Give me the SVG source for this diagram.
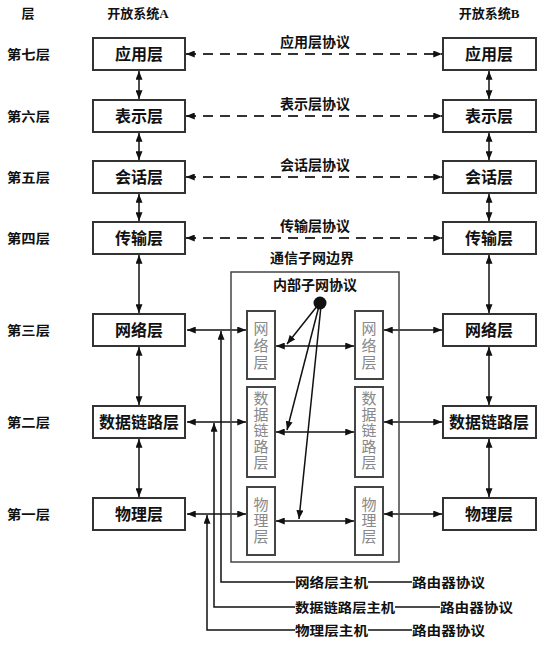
<svg xmlns="http://www.w3.org/2000/svg" width="555" height="651" viewBox="0 0 555 651">
<defs>
<marker id="ah" viewBox="0 0 10 8" refX="10" refY="4" markerWidth="9" markerHeight="7" markerUnits="userSpaceOnUse" orient="auto-start-reverse">
<path d="M0,0 L10,4 L0,8 Z" fill="#111"/>
</marker>
<style>
.t{font-family:"Liberation Serif","Noto Sans CJK SC",serif;font-weight:bold;fill:#111;}
.box{fill:#fff;stroke:#333;stroke-width:2;}
.ibox{fill:#fff;stroke:#444;stroke-width:2;}
.it{font-family:"Liberation Serif","Noto Sans CJK SC",serif;fill:#888;font-size:15px;text-anchor:middle;}
.bt{font-size:16px;text-anchor:middle;dominant-baseline:central;}
.lab{font-size:13px;}
.ln{stroke:#111;stroke-width:1.5;fill:none;}
.da{stroke:#333;stroke-width:2;fill:none;stroke-dasharray:10 7;}
.arr{marker-start:url(#ah);marker-end:url(#ah);}
.one{marker-end:url(#ah);}
</style>
</defs>

<g id="headers">
<text class="t lab" x="28" y="18" text-anchor="middle">层</text>
<text class="t lab" x="138" y="18" text-anchor="middle">开放系统A</text>
<text class="t lab" x="489" y="18" text-anchor="middle">开放系统B</text>
</g>

<g id="row-labels">
<text class="t lab" x="7" y="59" textLength="43" lengthAdjust="spacingAndGlyphs">第七层</text>
<text class="t lab" x="7" y="121" textLength="43" lengthAdjust="spacingAndGlyphs">第六层</text>
<text class="t lab" x="7" y="182" textLength="43" lengthAdjust="spacingAndGlyphs">第五层</text>
<text class="t lab" x="7" y="243" textLength="43" lengthAdjust="spacingAndGlyphs">第四层</text>
<text class="t lab" x="7" y="335" textLength="43" lengthAdjust="spacingAndGlyphs">第三层</text>
<text class="t lab" x="7" y="427" textLength="43" lengthAdjust="spacingAndGlyphs">第二层</text>
<text class="t lab" x="7" y="519" textLength="43" lengthAdjust="spacingAndGlyphs">第一层</text>
</g>

<g id="connectors">
<line class="da arr" x1="186" y1="54" x2="442" y2="54"/>
<line class="da arr" x1="186" y1="116" x2="442" y2="116"/>
<line class="da arr" x1="186" y1="177" x2="442" y2="177"/>
<line class="da arr" x1="186" y1="238" x2="442" y2="238"/>
<line class="ln arr" x1="139" y1="71" x2="139" y2="99"/>
<line class="ln arr" x1="139" y1="133" x2="139" y2="160"/>
<line class="ln arr" x1="139" y1="194" x2="139" y2="221"/>
<line class="ln arr" x1="139" y1="255" x2="139" y2="313"/>
<line class="ln arr" x1="139" y1="347" x2="139" y2="405"/>
<line class="ln arr" x1="139" y1="439" x2="139" y2="497"/>
<line class="ln arr" x1="489" y1="71" x2="489" y2="99"/>
<line class="ln arr" x1="489" y1="133" x2="489" y2="160"/>
<line class="ln arr" x1="489" y1="194" x2="489" y2="221"/>
<line class="ln arr" x1="489" y1="255" x2="489" y2="313"/>
<line class="ln arr" x1="489" y1="347" x2="489" y2="405"/>
<line class="ln arr" x1="489" y1="439" x2="489" y2="497"/>
<line class="ln arr" x1="187" y1="330" x2="246" y2="330"/>
<line class="ln arr" x1="187" y1="422" x2="246" y2="422"/>
<line class="ln arr" x1="187" y1="514" x2="246" y2="514"/>
<line class="ln arr" x1="384" y1="330" x2="442" y2="330"/>
<line class="ln arr" x1="384" y1="422" x2="442" y2="422"/>
<line class="ln arr" x1="384" y1="514" x2="442" y2="514"/>
<line class="ln arr" x1="276" y1="346" x2="354" y2="346"/>
<line class="ln arr" x1="276" y1="432" x2="354" y2="432"/>
<line class="ln arr" x1="276" y1="521" x2="354" y2="521"/>
<line class="ln one" x1="318" y1="305" x2="287" y2="344"/>
<line class="ln one" x1="319" y1="306" x2="287" y2="430"/>
<line class="ln one" x1="321" y1="306" x2="299" y2="519"/>
<polyline class="ln one" points="295,582 221,582 221,331"/>
<polyline class="ln one" points="295,607 214,607 214,423"/>
<polyline class="ln one" points="295,630 207,630 207,515"/>
<line class="ln" x1="368" y1="582" x2="412" y2="582"/>
<line class="ln" x1="395" y1="607" x2="440" y2="607"/>
<line class="ln" x1="368" y1="630" x2="412" y2="630"/>
</g>

<g id="protocol-labels">
<text class="t" font-size="14" x="315" y="47" text-anchor="middle">应用层协议</text>
<text class="t" font-size="14" x="315" y="109" text-anchor="middle">表示层协议</text>
<text class="t" font-size="14" x="315" y="170" text-anchor="middle">会话层协议</text>
<text class="t" font-size="14" x="315" y="231" text-anchor="middle">传输层协议</text>
</g>

<g id="A7"><rect class="box" x="93" y="38" width="92" height="32"/><text class="t bt" x="139" y="54">应用层</text></g>
<g id="A6"><rect class="box" x="93" y="100" width="92" height="32"/><text class="t bt" x="139" y="116">表示层</text></g>
<g id="A5"><rect class="box" x="93" y="161" width="92" height="32"/><text class="t bt" x="139" y="177">会话层</text></g>
<g id="A4"><rect class="box" x="93" y="222" width="92" height="32"/><text class="t bt" x="139" y="238">传输层</text></g>
<g id="A3"><rect class="box" x="93" y="314" width="92" height="32"/><text class="t bt" x="139" y="330">网络层</text></g>
<g id="A2"><rect class="box" x="93" y="406" width="92" height="32"/><text class="t bt" x="139" y="422">数据链路层</text></g>
<g id="A1"><rect class="box" x="93" y="498" width="92" height="32"/><text class="t bt" x="139" y="514">物理层</text></g>

<g id="B7"><rect class="box" x="443" y="38" width="93" height="32"/><text class="t bt" x="489" y="54">应用层</text></g>
<g id="B6"><rect class="box" x="443" y="100" width="93" height="32"/><text class="t bt" x="489" y="116">表示层</text></g>
<g id="B5"><rect class="box" x="443" y="161" width="93" height="32"/><text class="t bt" x="489" y="177">会话层</text></g>
<g id="B4"><rect class="box" x="443" y="222" width="93" height="32"/><text class="t bt" x="489" y="238">传输层</text></g>
<g id="B3"><rect class="box" x="443" y="314" width="93" height="32"/><text class="t bt" x="489" y="330">网络层</text></g>
<g id="B2"><rect class="box" x="443" y="406" width="93" height="32"/><text class="t bt" x="489" y="422">数据链路层</text></g>
<g id="B1"><rect class="box" x="443" y="498" width="93" height="32"/><text class="t bt" x="489" y="514">物理层</text></g>

<g id="subnet">
<text class="t" font-size="14" x="312" y="263" text-anchor="middle">通信子网边界</text>
<rect x="231" y="272" width="168" height="290" fill="none" stroke="#444" stroke-width="1.5"/>
<text class="t" font-size="14" x="315" y="290" text-anchor="middle">内部子网协议</text>
<circle cx="320" cy="303" r="6.5" fill="#111"/>
</g>

<g id="IL3"><rect class="ibox" x="247" y="311" width="28" height="68"/>
<text class="it" x="261" y="334">网</text><text class="it" x="261" y="351">络</text><text class="it" x="261" y="368">层</text></g>
<g id="IR3"><rect class="ibox" x="355" y="311" width="28" height="68"/>
<text class="it" x="369" y="334">网</text><text class="it" x="369" y="351">络</text><text class="it" x="369" y="368">层</text></g>
<g id="IL2"><rect class="ibox" x="247" y="387" width="28" height="90"/>
<text class="it" x="261" y="404">数</text><text class="it" x="261" y="420">据</text><text class="it" x="261" y="436">链</text><text class="it" x="261" y="452">路</text><text class="it" x="261" y="468">层</text></g>
<g id="IR2"><rect class="ibox" x="355" y="387" width="28" height="90"/>
<text class="it" x="369" y="404">数</text><text class="it" x="369" y="420">据</text><text class="it" x="369" y="436">链</text><text class="it" x="369" y="452">路</text><text class="it" x="369" y="468">层</text></g>
<g id="IL1"><rect class="ibox" x="247" y="487" width="28" height="68"/>
<text class="it" x="261" y="510">物</text><text class="it" x="261" y="526">理</text><text class="it" x="261" y="542">层</text></g>
<g id="IR1"><rect class="ibox" x="355" y="487" width="28" height="68"/>
<text class="it" x="369" y="510">物</text><text class="it" x="369" y="526">理</text><text class="it" x="369" y="542">层</text></g>

<g id="hosts">
<text class="t" font-size="13" x="295" y="587" textLength="73" lengthAdjust="spacingAndGlyphs">网络层主机</text>
<text class="t" font-size="13" x="412" y="587" textLength="73" lengthAdjust="spacingAndGlyphs">路由器协议</text>
<text class="t" font-size="13" x="295" y="612" textLength="100" lengthAdjust="spacingAndGlyphs">数据链路层主机</text>
<text class="t" font-size="13" x="440" y="612" textLength="73" lengthAdjust="spacingAndGlyphs">路由器协议</text>
<text class="t" font-size="13" x="295" y="635" textLength="73" lengthAdjust="spacingAndGlyphs">物理层主机</text>
<text class="t" font-size="13" x="412" y="635" textLength="73" lengthAdjust="spacingAndGlyphs">路由器协议</text>
</g>
</svg>
